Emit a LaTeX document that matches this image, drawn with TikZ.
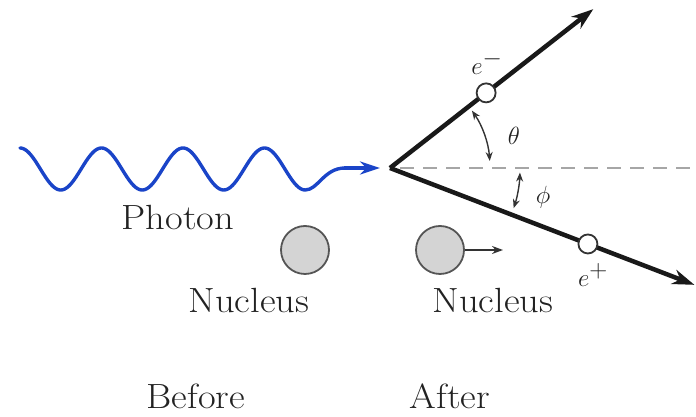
\documentclass[tikz,border=0pt]{standalone}
\usetikzlibrary{arrows.meta,calc}
\definecolor{wavecol}{HTML}{1A44C8}
\definecolor{txtcol}{HTML}{222222}
\definecolor{nucfill}{HTML}{D4D4D4}
\definecolor{nucdraw}{HTML}{555555}
\tikzset{
  lbl/.style={text=txtcol, inner sep=0pt, anchor=base, font=\fontsize{35}{40}\selectfont},
  mlbl/.style={text=txtcol, inner sep=0pt, font=\fontsize{34}{38}\selectfont},
  track/.style={line width=4.5pt, draw=black!90, -{Stealth[length=22pt,width=15pt]}},
  particle/.style={circle, draw=black!80, fill=white, line width=1.8pt, minimum size=19pt, inner sep=0pt},
  nucleus/.style={circle, draw=nucdraw, fill=nucfill, line width=1.8pt, minimum size=48pt, inner sep=0pt},
  anglearr/.style={line width=1.4pt, draw=black!80, {Stealth[length=9pt,width=7pt]}-{Stealth[length=9pt,width=7pt]}},
}
\newcommand{\wide}[1]{\scalebox{1.1}[1]{#1}}
\begin{document}
\begin{tikzpicture}[x=1pt,y=1pt]
\useasboundingbox (0,0) rectangle (696,417);
\coordinate (v) at (390,249);
% photon wave
\draw[wavecol, line width=3.4pt, line cap=round]
  plot[domain=20:305.25, samples=200, smooth] (\x,{248+21*cos(4.4172*(\x-20))})
  .. controls (318,227) and (324,249) .. (345,249);
\draw[wavecol, line width=3.4pt, -{Stealth[length=20pt,width=13pt]}] (344,249) -- (380,249);
% dashed reference line
\coordinate (dend) at (696,249);
\draw[gray!70, line width=2.2pt, dash pattern=on 14pt off 9pt] ($(v)+(10,0)$) -- (dend);
% tracks
\coordinate (eminusend) at ($(v)+(38:258)$);
\coordinate (eplusend) at ($(v)+(-21:326)$);
\draw[track] (v) -- (eminusend);
\draw[track] (v) -- (eplusend);
\node[particle] (em) at ($(v)+(38:122)$) {};
\node[particle] (ep) at ($(v)+(-21:212)$) {};
% angle arcs
\draw[anglearr] ($(v)+(35:100)$) arc[start angle=35, end angle=4, radius=100];
\draw[anglearr] ($(v)+(-2:130)$) arc[start angle=-2, end angle=-18, radius=130];
% labels
\node[mlbl] (th) at (514,281) {$\theta$};
\node[mlbl] (ph) at (543,220) {$\phi$};
\node[mlbl, anchor=base] (eml) at (487,342) {$e^{-}$};
\node[mlbl, anchor=base] (epl) at (593,130) {$e^{+}$};
% nuclei
\node[nucleus] (n1) at (305,167) {};
\node[nucleus] (n2) at (440,167) {};
\coordinate (n2end) at (503,167);
\draw[line width=1.5pt, black!80, -{Stealth[length=11pt,width=8pt]}] (n2.east) -- (n2end);
% text
\node[lbl] (photon) at (178,187) {\wide{Photon}};
\node[lbl] (nuc1) at (249,104) {\wide{Nucleus}};
\node[lbl] (nuc2) at (493,104) {\wide{Nucleus}};
\node[lbl] (before) at (196,8) {\wide{Before}};
\node[lbl] (after) at (450,8) {\wide{After}};
\end{tikzpicture}
\end{document}
